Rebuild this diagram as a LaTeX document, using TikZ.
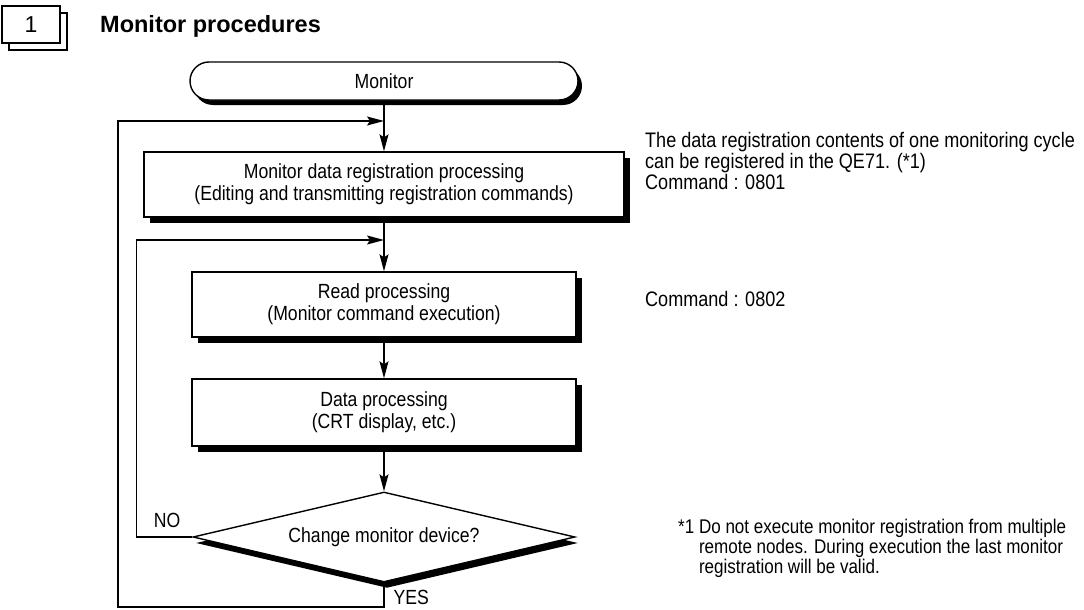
\documentclass[tikz,border=0pt]{standalone}
\usepackage{fontspec}
\setmainfont{Liberation Sans}
\newfontfamily\narrowsf{Liberation Sans}[FakeStretch=0.86]
\usetikzlibrary{arrows.meta,shapes.geometric,shadows}

\begin{document}
\begin{tikzpicture}[x=1pt,y=-1pt,
    every node/.style={font=\narrowsf\fontsize{20.5}{22}\selectfont},
    boxshadow/.style={general shadow={fill=black,shadow xshift=6pt,shadow yshift=-6pt}},
    procbox/.style={draw,line width=1.4pt,fill=white,align=center,
        minimum width=384pt,minimum height=65pt,inner sep=0pt,boxshadow},
    termbox/.style={draw,line width=1.4pt,fill=white,rounded corners=19pt,
        minimum width=388pt,minimum height=38pt,inner sep=0pt,
        general shadow={fill=black,shadow xshift=4pt,shadow yshift=-5pt}},
    decision/.style={diamond,aspect=4.2,draw,line width=1.4pt,fill=white,
        minimum width=382pt,minimum height=90pt,inner sep=0pt,
        general shadow={fill=black,shadow xshift=3pt,shadow yshift=-6pt}},
    numbox/.style={draw,line width=1.3pt,fill=white,minimum width=58pt,minimum height=37pt,
        font=\fontsize{23}{23}\selectfont,copy shadow={shadow xshift=7pt,shadow yshift=-7pt}},
    flow/.style={line width=1.2pt,-{Stealth[length=17pt,width=9pt,inset=3pt]}},
    note/.style={anchor=north west,align=left,inner sep=0pt,
        font=\narrowsf\fontsize{21}{21}\selectfont}]
    \useasboundingbox (0,0) rectangle (1084,610);
    % heading
        \node[numbox] (num) at (31,24.5) {1};
        \node[anchor=base west,inner sep=0pt,font=\fontsize{23.5}{24}\selectfont\bfseries] (title) at (100,33) {Monitor procedures};
    % flow chart
        \node[termbox] (mon) at (384,81) {Monitor};
        \node[procbox,minimum width=480pt] (reg) at (384,184.5) {Monitor data registration processing\\(Editing and transmitting registration commands)};
        \node[procbox] (rd) at (384,304.5) {Read processing\\(Monitor command execution)};
        \node[procbox,minimum height=67pt] (dp) at (384,412.5) {Data processing\\(CRT display, etc.)};
        \node[decision] (chg) at (384,537) {Change monitor device?};
        \coordinate (j1) at (384,121);
        \coordinate (j2) at (384,240);
    % connectors
        \draw[flow] (mon) -- (reg);
        \draw[flow] (reg) -- (rd);
        \draw[flow] (rd) -- (dp);
        \draw[flow] (dp) -- (chg);
        \draw[flow] (chg.west) -- ++(-56,0) |- (j2);
        \draw[flow] (chg.south) |- (118,607) |- (j1);
        \node (no) at (167,520) {NO};
        \node[anchor=west] (yes) at (390,597) {YES};
    % remarks on the right
        \node[note] (rem1) at (645,132) {The data registration contents of one monitoring cycle\\can be registered in the QE71. (*1)\\Command : 0801};
        \node[note] (rem2) at (645,291) {Command : 0802};
        \node[note,font=\narrowsf\fontsize{19.8}{19.5}\selectfont] (foot) at (678,519) {\begin{tabular}{@{}l@{ }l@{}}*1&Do not execute monitor registration from multiple\\&remote nodes. During execution the last monitor\\&registration will be valid.\end{tabular}};
\end{tikzpicture}
\end{document}
